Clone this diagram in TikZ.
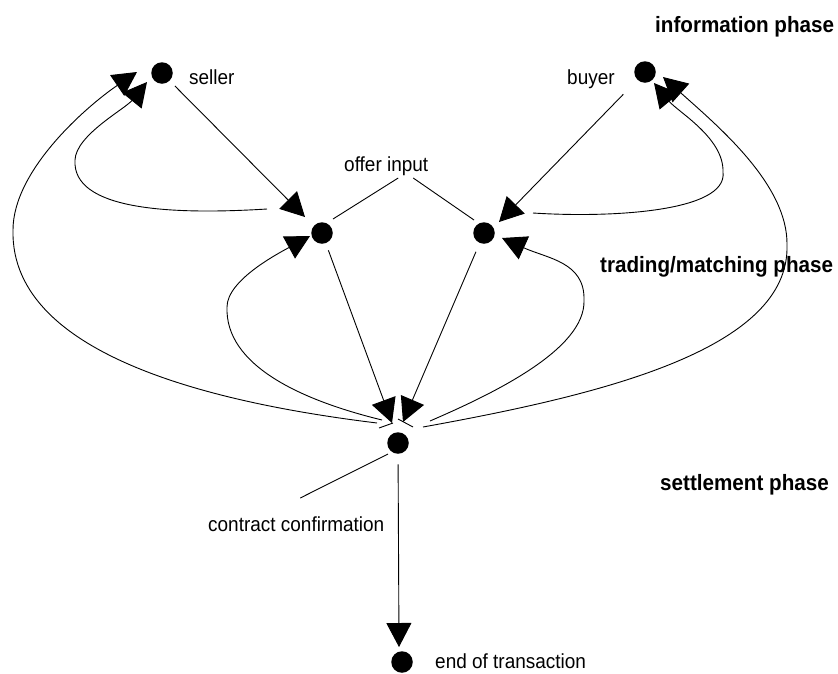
\documentclass[tikz,border=0pt]{standalone}
\usepackage{fontspec}
\setmainfont{Liberation Sans}
\newfontfamily\narrowsans[FakeStretch=0.93]{Liberation Sans}
\usetikzlibrary{arrows.meta,calc}
\begin{document}
\begin{tikzpicture}[x=1pt,y=-1pt,
  dot/.style={circle,fill=black,draw=none,inner sep=0pt,minimum size=21.5pt},
  lbl/.style={inner sep=0pt,anchor=base west,font=\narrowsans\fontsize{20.4}{23}\selectfont},
  phase/.style={inner sep=0pt,anchor=base west,font=\narrowsans\fontsize{22.2}{25}\selectfont\bfseries},
  con/.style={line width=0.9pt},
  arr/.style={con,-{Triangle[length=24pt,width=25pt]}},
]
\useasboundingbox (0,0) rectangle (838,673);

% dots
\node[dot] (seller) at (162,73) {};
\node[dot] (buyer) at (645,72) {};
\node[dot] (offL) at (322,233) {};
\node[dot] (offR) at (484,233) {};
\node[dot] (contract) at (398,443) {};
\node[dot] (endn) at (402,662) {};

% labels
\node[lbl] (sellerl) at (189,84) {seller};
\node[lbl] (buyerl) at (567,84) {buyer};
\node[lbl] (offer) at (344,171) {offer input};
\node[lbl] (ccl) at (208,531) {contract confirmation};
\node[lbl] (endl) at (435,668) {end of transaction};
\node[phase] (ph1) at (655,32) {information phase};
\node[phase] (ph2) at (600,272) {trading/matching phase};
\node[phase] (ph3) at (660,490) {settlement phase};

% straight arrows
\draw[arr,shorten <=7.3pt] (seller) -- ($(offL)+(-17,-16)$);
\draw[arr,shorten <=20pt] (buyer) -- ($(offR)+(15,-11)$);
\draw[arr,shorten <=7.5pt] (offL) -- ($(contract)+(-6,-20)$);
\draw[arr,shorten <=9.5pt] (offR) -- ($(contract)+(5,-21)$);
\draw[arr,shorten <=10.5pt] (contract) -- ($(endn)+(-3,-15)$);

% label lines
\draw[con] ($(offer.base)+(12,7)$) -- ($(offL)+(11,-14)$);
\draw[con] ($(offer.base)+(27,7)$) -- ($(offR)+(-10,-13)$);
\draw[con] ($(contract)+(-10,11)$) -- ($(ccl.base)+(4,-33)$);

% short crossing strokes under the arrow tips
\draw[con] ($(contract)+(-19,-15)$) -- ($(contract)+(-5,-20)$);
\draw[con] ($(contract)+(0,-24)$) -- ($(contract)+(15,-16)$);

% left curves
\draw[arr] ($(offL)+(-55,-24)$) .. controls (170,215) and (72,210) .. (75,160)
  .. controls (76,135) and (125,109) .. ($(seller)+(-15,9)$);
\draw[arr] ($(contract)+(-21,-20)$) .. controls (230,405) and (10,360) .. (13,230)
  .. controls (13,170) and (87,106) .. ($(seller)+(-25,-1)$);
\draw[arr] ($(contract)+(-16,-23)$) .. controls (300,400) and (225,365) .. (227,307)
  .. controls (227,280) and (279,253) .. ($(offL)+(-12,3)$);

% right curves
\draw[arr] ($(offR)+(49,-20)$) .. controls (610,218) and (728,212) .. (723,172)
  .. controls (724,138) and (678,112) .. ($(buyer)+(9,11)$);
\draw[arr] ($(contract)+(25,-16)$) .. controls (600,395) and (790,350) .. (787,245)
  .. controls (788,185) and (719,127) .. ($(buyer)+(18,5)$);
\draw[arr] ($(contract)+(32,-22)$) .. controls (490,395) and (586,350) .. (584,300)
  .. controls (585,262) and (547.5,258.5) .. ($(offR)+(18,5)$);
\end{tikzpicture}
\end{document}
